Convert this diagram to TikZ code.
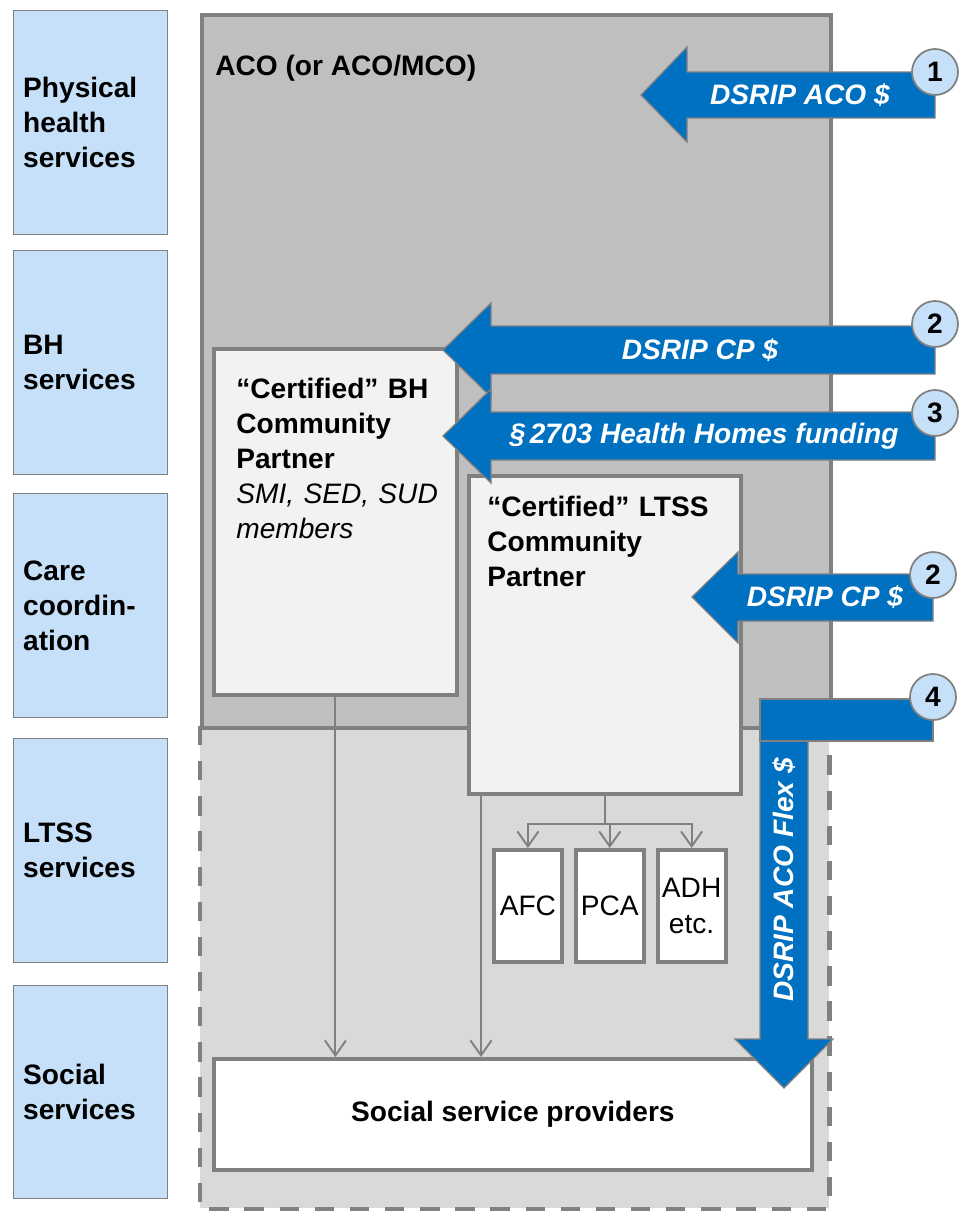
\documentclass[tikz,border=0pt]{standalone}
\usepackage{fontspec}
\setmainfont{Liberation Sans}
\usetikzlibrary{arrows.meta, positioning}
\definecolor{laneblue}{RGB}{198,224,249}
\definecolor{edgegray}{RGB}{128,128,128}
\definecolor{acogray}{RGB}{191,191,191}
\definecolor{lowergray}{RGB}{217,217,217}
\definecolor{cpwhite}{RGB}{242,242,242}
\definecolor{dsripblue}{RGB}{0,112,192}
\newcommand{\basefont}{\fontsize{16}{20}\selectfont}
\tikzstyle{lane} = [rectangle, anchor=north west, minimum width=3.08cm, minimum height=4.48cm, text width=2.7cm, inner xsep=0.19cm, align=left, fill=laneblue, draw=edgegray, line width=0.8pt, font=\basefont\bfseries]
\tikzstyle{region} = [rectangle, anchor=north west, minimum width=12.58cm, inner sep=0pt]
\tikzstyle{partner} = [rectangle, anchor=north west, fill=cpwhite, draw=edgegray, line width=2.2pt, inner sep=0pt]
\tikzstyle{partnertext} = [anchor=base west, inner sep=0pt, align=left, font=\basefont]
\tikzstyle{provider} = [rectangle, anchor=north west, fill=white, draw=edgegray, line width=2.2pt, minimum width=1.36cm, minimum height=2.24cm, inner sep=0pt, align=center, font=\basefont]
\tikzstyle{link} = [draw=edgegray, line width=1.1pt, -{Straight Barb[length=8.5pt,width=12pt]}]
\tikzstyle{fund} = [fill=dsripblue, draw=edgegray, line width=0.7pt]
\tikzstyle{fundtext} = [text=white, inner sep=0pt, font=\basefont\bfseries\itshape]
\tikzstyle{num} = [circle, fill=laneblue, draw=edgegray, line width=1pt, minimum size=0.92cm, inner sep=0pt, font=\basefont\bfseries]

\begin{document}
\begin{tikzpicture}[x=0.02cm, y=-0.02cm, node distance=0.2cm]
\useasboundingbox (0,0) rectangle (961,1211);
% service lanes
\node (lane1) [lane] at (13,10) {Physical\\health\\services};
\node (lane2) [lane] at (13,250) {BH\\services};
\node (lane3) [lane] at (13,493) {Care\\coordin-\\ation};
\node (lane4) [lane] at (13,738) {LTSS\\services};
\node (lane5) [lane, minimum height=4.26cm] at (13,985) {Social\\services};

% ACO and the part below it
\node (lower) [region, minimum height=9.64cm, fill=lowergray] at (200,726) {};
\node (aco) [region, minimum height=14.26cm, fill=acogray, draw=edgegray, line width=2.3pt] at (200,13) {};
\draw [draw=edgegray, line width=2.4pt, dash pattern=on 11pt off 9pt] (lower.north west) -- (lower.south west) -- (lower.south east) -- (lower.north east);
\node (acolabel) [anchor=base west, inner sep=0pt, font=\basefont\bfseries] at (215,75) {ACO (or ACO/MCO)};

% community partners
\node (bhcp) [partner, minimum width=4.86cm, minimum height=6.92cm] at (212,347) {};
\node (bhtext) [partnertext, text width=4.3cm] at (236,398) {\textbf{“Certified” BH}\\\textbf{Community}\\\textbf{Partner}\\\textit{SMI, SED, SUD}\\\textit{members}};
\node (ltsscp) [partner, minimum width=5.44cm, minimum height=6.36cm] at (467,474) {};
\node (ltsstext) [partnertext, text width=4.9cm] at (487,516) {\textbf{“Certified” LTSS}\\\textbf{Community}\\\textbf{Partner}};

\node (afc) [provider] at (492,848) {AFC};
\node (pca) [provider, right=of afc] {PCA};
\node (adh) [provider, right=of pca] {ADH\\etc.};
\node (social) [partner, fill=white, minimum width=11.96cm, minimum height=2.22cm, font=\basefont\bfseries] at (212,1057) {Social service providers};

% referrals
\draw [link] (bhcp.south) -- (bhcp.south |- social.north);
\coordinate (ltssdrop) at ([xshift=0.28cm]ltsscp.south west);
\draw [link] (ltssdrop) -- (ltssdrop |- social.north);
\coordinate (fork) at ([yshift=-0.56cm]ltsscp.south);
\draw [draw=edgegray, line width=1.1pt] (ltsscp.south) -- (fork);
\draw [link] (fork) -| (afc.north);
\draw [link] (fork) -| (adh.north);
\draw [link] (fork -| pca.north) -- (pca.north);

% funding streams
\draw [fund] (935,72) -- (687,72) -- (687,47) -- (641,95) -- (687,142) -- (687,118) -- (935,118) -- cycle;
\draw [fund] (935,326) -- (491,326) -- (491,303) -- (443,350) -- (491,397) -- (491,374) -- (935,374) -- cycle;
\draw [fund] (935,412) -- (491,412) -- (491,389) -- (443,436) -- (491,483) -- (491,460) -- (935,460) -- cycle;
\draw [fund] (933,574) -- (738,574) -- (738,552) -- (692,597) -- (738,643) -- (738,621) -- (933,621) -- cycle;
\draw [fund] (760,741) -- (760,1039) -- (735,1039) -- (784,1088) -- (833,1039) -- (808,1039) -- (808,741) -- cycle;
\draw [fund] (760,699) rectangle (933,741);

\node (fund1) [fundtext] at (800,95) {DSRIP ACO \$};
\node (fund2) [fundtext] at (700,350) {DSRIP CP \$};
\node (fund3) [fundtext] at (704,436) {§\,2703 Health Homes funding};
\node (fund2b) [fundtext] at (825,597) {DSRIP CP \$};
\node (fund4) [fundtext, rotate=90] at (784,880) {DSRIP ACO Flex \$};

\node (num1) [num] at (935,72) {1};
\node (num2) [num] at (935,324) {2};
\node (num3) [num] at (935,413) {3};
\node (num2b) [num] at (933,575) {2};
\node (num4) [num] at (933,697) {4};
\end{tikzpicture}
\end{document}
